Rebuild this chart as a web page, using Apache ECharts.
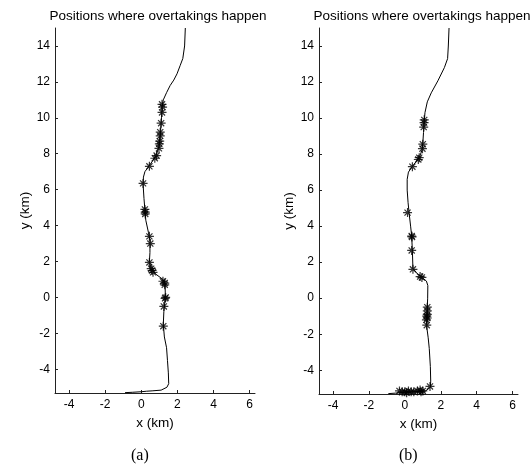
<!DOCTYPE html>
<html>
<head>
<meta charset="utf-8">
<script src="https://cdn.jsdelivr.net/npm/echarts@6/dist/echarts.min.js"></script>
<style>
  html, body { margin: 0; padding: 0; background: #fff; }
  #main { width: 531px; height: 473px; }
</style>
</head>
<body>
<div id="main"></div>
<script>
// tick labels
const xTicks = [-4, -2, 0, 2, 4, 6];
const yTicks = [-4, -2, 0, 2, 4, 6, 8, 10, 12, 14];

// road centre line, (a)
const pathA = [
  [2.44, 15], [2.4, 14.0], [2.3, 13.3], [2.15, 12.9], [1.98, 12.45], [1.8, 12.1],
  [1.6, 11.8], [1.4, 11.4], [1.22, 11.0], [1.15, 10.6], [1.12, 10.0], [1.07, 9.3],
  [1.02, 8.7], [0.95, 8.3], [0.8, 7.85], [0.45, 7.35], [0.2, 7.0], [0.12, 6.7],
  [0.1, 6.3], [0.15, 5.5], [0.2, 4.9], [0.25, 4.3], [0.4, 3.6], [0.48, 3.2],
  [0.48, 2.5], [0.45, 2.0], [0.55, 1.6], [0.8, 1.3], [1.2, 1.0], [1.32, 0.75],
  [1.33, 0.2], [1.3, -0.3], [1.25, -0.8], [1.22, -1.5], [1.28, -2.2], [1.4, -2.8],
  [1.45, -3.5], [1.5, -4.2], [1.52, -4.8], [1.42, -5.0], [1.1, -5.16], [0.6, -5.2],
  [0.3, -5.22], [0, -5.25], [-0.5, -5.28], [-0.9, -5.3]
];

// overtaking positions, (a)
const hitsA = [
  [1.15, 10.75], [1.18, 10.6], [1.15, 10.3], [1.1, 9.7], [1.05, 9.2], [1.05, 9.0],
  [1.02, 8.7], [1.0, 8.55], [0.98, 8.3], [0.85, 7.9], [0.75, 7.75], [0.45, 7.3],
  [0.1, 6.35], [0.2, 4.9], [0.22, 4.75], [0.22, 4.65], [0.45, 3.4], [0.5, 3.0],
  [0.45, 1.95], [0.55, 1.6], [0.6, 1.5], [0.65, 1.4], [1.2, 0.9], [1.3, 0.8],
  [1.3, 0.7], [1.35, 0.0], [1.32, -0.05], [1.25, -0.5], [1.22, -1.6]
];

// road centre line, (b)
const pathB = [
  [2.46, 15], [2.42, 14.0], [2.38, 13.3], [2.2, 12.8], [1.84, 12.07], [1.47, 11.4],
  [1.25, 10.9], [1.12, 10.3], [1.08, 9.8], [1.04, 9.2], [1.0, 8.6], [0.95, 8.2],
  [0.8, 7.8], [0.42, 7.32], [0.2, 7.0], [0.13, 6.6], [0.13, 6.0], [0.18, 5.3],
  [0.24, 4.7], [0.32, 4.0], [0.38, 3.45], [0.42, 2.6], [0.45, 1.65], [0.7, 1.35],
  [0.95, 1.15], [1.2, 0.95], [1.28, 0.7], [1.27, 0.0], [1.25, -0.5], [1.22, -1.6],
  [1.3, -2.2], [1.36, -2.8], [1.42, -3.8], [1.44, -4.6], [1.42, -4.95], [1.15, -5.15],
  [0.5, -5.2], [0, -5.22], [-0.5, -5.27], [-0.92, -5.3]
];

// overtaking positions, (b)
const hitsB = [
  [1.08, 9.9], [1.07, 9.75], [1.05, 9.5], [1.0, 8.55], [0.98, 8.3], [0.8, 7.8],
  [0.75, 7.7], [0.42, 7.3], [0.15, 4.75], [0.38, 3.45], [0.4, 3.4], [0.38, 2.65],
  [0.45, 1.6], [0.85, 1.2], [0.95, 1.15], [1.25, -0.5], [1.25, -0.7], [1.25, -0.9],
  [1.22, -1.0], [1.25, -1.1], [1.2, -1.2], [1.22, -1.5], [1.4, -4.9],
  [-0.3, -5.15], [-0.15, -5.2], [0, -5.2], [0.1, -5.25], [0.2, -5.15], [0.35, -5.2],
  [0.5, -5.2], [0.7, -5.15], [0.85, -5.1], [0.9, -5.2], [1.0, -5.15]
];

const titleText = "Positions where overtakings happen";
const panelLabels = ["(a)", "(b)"];

const chart = echarts.init(document.getElementById("main"), null, { renderer: "canvas" });

const font = "Liberation Sans, Arial, sans-serif";
// matlab '*' marker: plus + cross
const asterisk = "path://M5,0L5,10M0,5L10,5M1.6,1.6L8.4,8.4M1.6,8.4L8.4,1.6";

const grids = [
  { left: 55, top: 28, width: 200, height: 365 },
  { left: 319, top: 28, width: 199, height: 366 },
];

const makeX = (i) => ({
  type: "value",
  gridIndex: i,
  min: -4.78,
  max: 6.3,
  name: "x (km)",
  nameLocation: "middle",
  nameGap: 21,
  nameTextStyle: { color: "#000", fontSize: 13.5, fontFamily: font },
  axisLine: { onZero: false, lineStyle: { color: "#222", width: 1 } },
  axisTick: { inside: true, length: 3, customValues: xTicks, lineStyle: { color: "#222" } },
  axisLabel: { customValues: xTicks, color: "#000", fontSize: 12, fontFamily: font, margin: 6 },
  splitLine: { show: false },
});

const makeY = (i) => ({
  type: "value",
  gridIndex: i,
  min: -5.32,
  max: 15,
  name: "y (km)",
  nameLocation: "middle",
  nameGap: 22,
  nameTextStyle: { color: "#000", fontSize: 13.5, fontFamily: font },
  axisLine: { onZero: false, lineStyle: { color: "#222", width: 1 } },
  axisTick: { inside: true, length: 3, customValues: yTicks, lineStyle: { color: "#222" } },
  axisLabel: { customValues: yTicks, color: "#000", fontSize: 12, fontFamily: font, margin: 5 },
  splitLine: { show: false },
});

const lineSeries = (i, d) => ({
  type: "line",
  xAxisIndex: i,
  yAxisIndex: i,
  data: d,
  showSymbol: false,
  smooth: false,
  lineStyle: { color: "#000", width: 1 },
  silent: true,
  z: 2,
});

const hitSeries = (i, d) => ({
  type: "scatter",
  xAxisIndex: i,
  yAxisIndex: i,
  data: d,
  symbol: asterisk,
  symbolSize: 9,
  itemStyle: { color: "transparent", borderColor: "#000", borderWidth: 1.2 },
  silent: true,
  z: 3,
});

const option = {
  animation: false,
  backgroundColor: "#fff",
  title: [
    { text: titleText, left: 153, top: 4, textAlign: "center",
      textStyle: { color: "#000", fontSize: 13.5, fontWeight: "normal", fontFamily: font } },
    { text: titleText, left: 417, top: 4, textAlign: "center",
      textStyle: { color: "#000", fontSize: 13.5, fontWeight: "normal", fontFamily: font } },
  ],
  grid: grids,
  xAxis: [makeX(0), makeX(1)],
  yAxis: [makeY(0), makeY(1)],
  series: [
    lineSeries(0, pathA),
    hitSeries(0, hitsA),
    lineSeries(1, pathB),
    hitSeries(1, hitsB),
  ],
  graphic: [
    { type: "text", left: 131, top: 448,
      style: { text: panelLabels[0], fill: "#000", font: "16px Liberation Serif, Times New Roman, serif" } },
    { type: "text", left: 399, top: 448,
      style: { text: panelLabels[1], fill: "#000", font: "16px Liberation Serif, Times New Roman, serif" } },
  ],
};

chart.setOption(option);
</script>
</body>
</html>
